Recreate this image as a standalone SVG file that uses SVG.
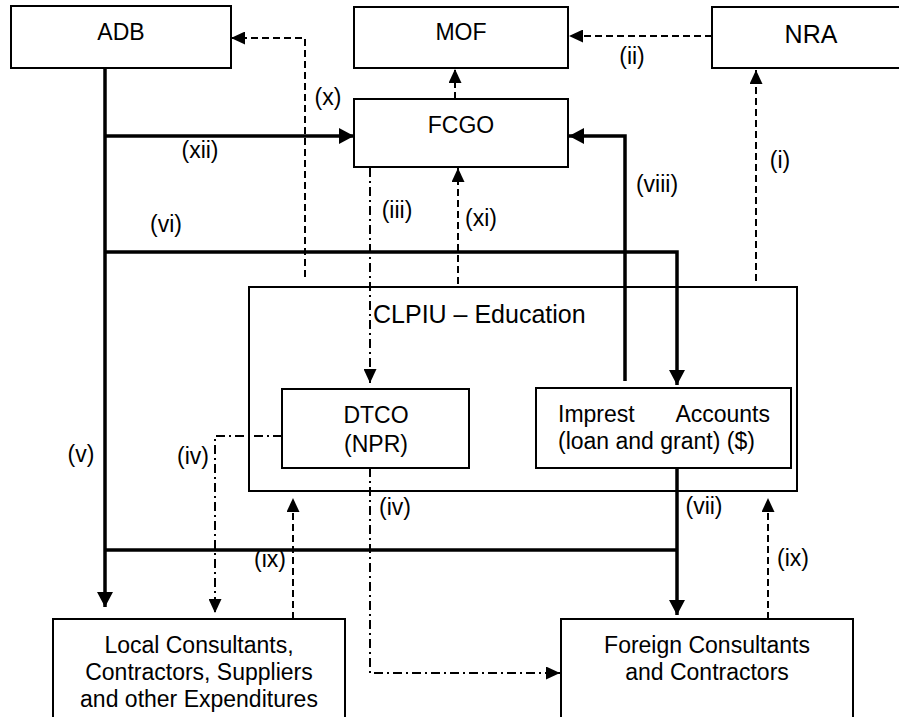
<svg xmlns="http://www.w3.org/2000/svg" width="899" height="717" viewBox="0 0 899 717">
<style>
.box{fill:#fff;stroke:#000;stroke-width:2}
.t{font-family:"Liberation Sans",Arial,sans-serif;font-size:23px;fill:#000}
.m{text-anchor:middle}
.thick{fill:none;stroke:#000;stroke-width:3.5}
.dash{fill:none;stroke:#000;stroke-width:2;stroke-dasharray:7,4}
.dd{fill:none;stroke:#000;stroke-width:2;stroke-dasharray:9,4,2,4}
</style>
<defs>
<marker id="ah" markerUnits="userSpaceOnUse" markerWidth="16" markerHeight="17" refX="15" refY="8" orient="auto" viewBox="0 0 16 17">
<path d="M0,0 L15,8 L0,16 Z" fill="#000"/>
</marker>
<marker id="as" markerUnits="userSpaceOnUse" markerWidth="15" markerHeight="13" refX="14" refY="6.5" orient="auto" viewBox="0 0 15 13">
<path d="M0,0 L14,6.5 L0,13 Z" fill="#000"/>
</marker>
</defs>
<rect width="899" height="717" fill="#fff"/>
<g id="connectors">
<path class="dash" d="M756,281 V70" marker-end="url(#as)"/>
<path class="dash" d="M712,36 H569" marker-end="url(#as)"/>
<path class="dash" d="M455,99 V69" marker-end="url(#as)"/>
<path class="dash" d="M305,277 V38 H231" marker-end="url(#as)"/>
<path class="dash" d="M458,284 V168" marker-end="url(#as)"/>
<path class="dd" d="M370,168 V383" marker-end="url(#as)"/>
<path class="thick" d="M105,136 H354" marker-end="url(#ah)"/>
<path class="thick" d="M105,252 H677 V385" marker-end="url(#ah)"/>
<path class="thick" d="M625,381 V136 H569" marker-end="url(#ah)"/>
<path class="thick" d="M105,68 V607" marker-end="url(#ah)"/>
<path class="thick" d="M105,550 H677"/>
<path class="thick" d="M677,468 V615" marker-end="url(#ah)"/>
<path class="dd" d="M282,436 H215 V613" marker-end="url(#as)"/>
<path class="dd" d="M370,468 V673 H560" marker-end="url(#as)"/>
<path class="dash" d="M293,619 V498" marker-end="url(#as)"/>
<path class="dash" d="M768,619 V498" marker-end="url(#as)"/>
<text class="t m" x="328" y="105">(x)</text>
<text class="t m" x="200" y="158">(xii)</text>
<text class="t m" x="166" y="232">(vi)</text>
<text class="t m" x="397" y="218">(iii)</text>
<text class="t m" x="481" y="226">(xi)</text>
<text class="t m" x="657" y="192">(viii)</text>
<text class="t m" x="780" y="168">(i)</text>
<text class="t m" x="632" y="64">(ii)</text>
<text class="t m" x="81" y="462">(v)</text>
<text class="t m" x="193" y="464">(iv)</text>
<text class="t m" x="395" y="515">(iv)</text>
<text class="t m" x="270" y="567">(ix)</text>
<text class="t m" x="704" y="514">(vii)</text>
<text class="t m" x="793" y="566">(ix)</text>
</g>
<g id="adb"><rect class="box" x="11" y="6" width="220" height="62"/><text class="t m" x="121" y="40">ADB</text></g>
<g id="mof"><rect class="box" x="354" y="7" width="214" height="61"/><text class="t m" x="461" y="40">MOF</text></g>
<g id="nra"><rect class="box" x="712" y="7" width="200" height="61"/><text class="t m" x="811" y="43" style="font-size:25px">NRA</text></g>
<g id="fcgo"><rect class="box" x="354" y="99" width="214" height="68"/><text class="t m" x="461" y="133">FCGO</text></g>
<g id="clpiu"><rect x="249" y="287" width="548" height="204" fill="none" stroke="#000" stroke-width="2"/><text class="t" x="373" y="323" style="font-size:25px">CLPIU – Education</text></g>
<g id="dtco"><rect class="box" x="282" y="389" width="187" height="79"/><text class="t m" x="376" y="423">DTCO</text><text class="t m" x="376" y="452">(NPR)</text></g>
<g id="imprest"><rect class="box" x="536" y="388" width="255" height="80"/><text class="t" x="558" y="422">Imprest</text><text class="t" x="770" y="422" text-anchor="end">Accounts</text><text class="t" x="558" y="449">(loan and grant) ($)</text></g>
<g id="local"><rect class="box" x="53" y="619" width="292" height="120"/><text class="t m" x="199" y="653">Local Consultants,</text><text class="t m" x="199" y="680">Contractors, Suppliers</text><text class="t m" x="199" y="707">and other Expenditures</text></g>
<g id="foreign"><rect class="box" x="561" y="619" width="292" height="120"/><text class="t m" x="707" y="653">Foreign Consultants</text><text class="t m" x="707" y="680">and Contractors</text></g>
</svg>
